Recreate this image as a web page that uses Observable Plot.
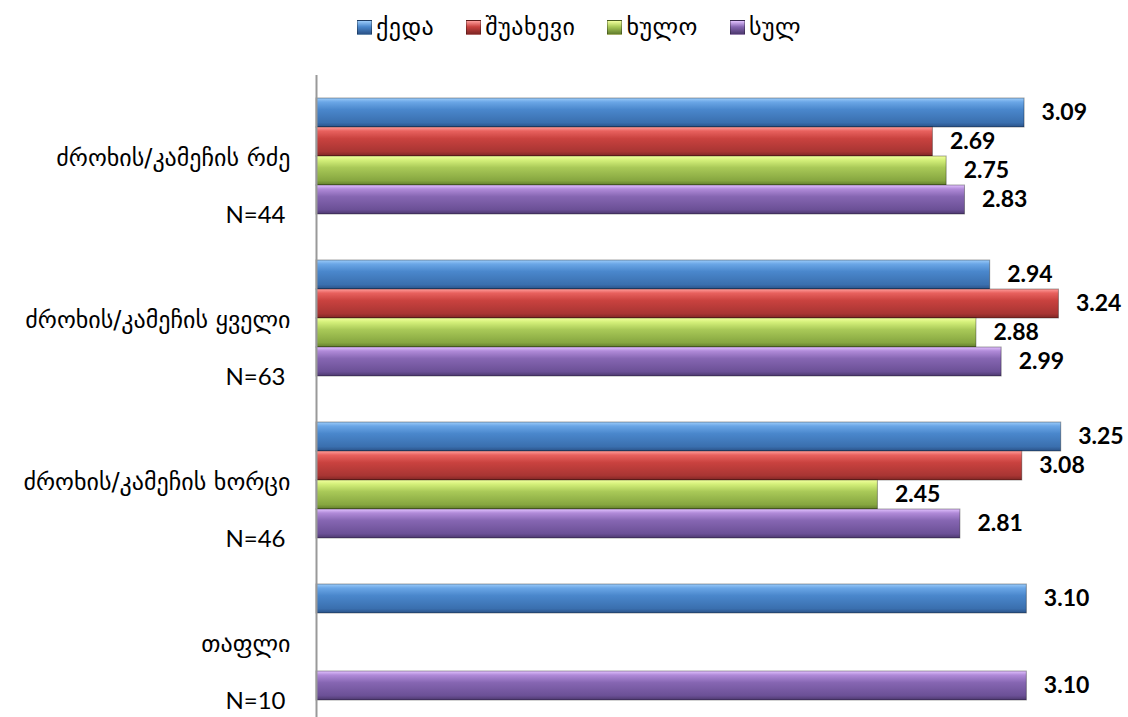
<!DOCTYPE html>
<html><head><meta charset="utf-8">
<script src="https://cdn.jsdelivr.net/npm/d3@7"></script>
<script src="https://cdn.jsdelivr.net/npm/@observablehq/plot@0.6"></script>
<style>
html,body{margin:0;padding:0;background:#fff;overflow:hidden}
#wrap{position:relative;width:1128px;height:717px}
#legend{position:absolute;top:13px;left:357px;display:flex;align-items:center;font-family:"DejaVu Sans",sans-serif;font-size:24px;letter-spacing:0.5px;color:#000}
#legend .item{display:flex;align-items:center;margin-right:32px}
#legend .sw{width:15px;height:15px;margin-right:4px;box-sizing:border-box}
#chart{position:absolute;top:0;left:0}
</style>
</head><body>
<svg width="0" height="0" style="position:absolute">
  <defs>
    <linearGradient id="g-blue" x1="0" y1="0" x2="0" y2="1">
      <stop offset="0" stop-color="#9cccfa"/><stop offset="0.14" stop-color="#6aa6e6"/>
      <stop offset="0.4" stop-color="#4a87cc"/><stop offset="0.85" stop-color="#3a6fae"/>
      <stop offset="1" stop-color="#2a5288"/>
    </linearGradient>
    <linearGradient id="g-red" x1="0" y1="0" x2="0" y2="1">
      <stop offset="0" stop-color="#ff9e9c"/><stop offset="0.14" stop-color="#e8615e"/>
      <stop offset="0.4" stop-color="#c9423f"/><stop offset="0.85" stop-color="#a83533"/>
      <stop offset="1" stop-color="#7e2624"/>
    </linearGradient>
    <linearGradient id="g-green" x1="0" y1="0" x2="0" y2="1">
      <stop offset="0" stop-color="#f2ff9e"/><stop offset="0.14" stop-color="#d4f07a"/>
      <stop offset="0.4" stop-color="#a9c958"/><stop offset="0.85" stop-color="#86a640"/>
      <stop offset="1" stop-color="#617d2c"/>
    </linearGradient>
    <linearGradient id="g-purple" x1="0" y1="0" x2="0" y2="1">
      <stop offset="0" stop-color="#e2c2ff"/><stop offset="0.14" stop-color="#b08ad8"/>
      <stop offset="0.4" stop-color="#8666b2"/><stop offset="0.85" stop-color="#6b5096"/>
      <stop offset="1" stop-color="#4c386e"/>
    </linearGradient>
  </defs>
</svg>
<div id="wrap">
  <div id="chart"></div>
  <div id="legend"></div>
</div>
<script>
const categories = ["ძროხის/კამეჩის რძე", "ძროხის/კამეჩის ყველი", "ძროხის/კამეჩის ხორცი", "თაფლი"];
const nLabels = ["N=44", "N=63", "N=46", "N=10"];
const series = ["ქედა", "შუახევი", "ხულო", "სულ"];
const keda = [3.09, 2.94, 3.25, 3.10];
const shuakhevi = [2.69, 3.24, 3.08, null];
const khulo = [2.75, 2.88, 2.45, null];
const sul = [2.83, 2.99, 2.81, 3.10];

const seriesValues = [keda, shuakhevi, khulo, sul];
const gradIds = ["g-blue", "g-red", "g-green", "g-purple"];
const legendGrad = [
  "linear-gradient(#9cccfa,#4a87cc 45%,#2a5288)",
  "linear-gradient(#ff9e9c,#c9423f 45%,#7e2624)",
  "linear-gradient(#f2ff9e,#a9c958 45%,#617d2c)",
  "linear-gradient(#e2c2ff,#8666b2 45%,#4c386e)"
];

const rows = [];
categories.forEach((c, i) => series.forEach((s, j) => {
  const v = seriesValues[j][i];
  if (v != null) rows.push({category: c, series: s, value: v});
}));
const cats = categories.map((c, i) => ({category: c, n: nLabels[i]}));

const chart = Plot.plot({
  width: 1128, height: 717,
  marginLeft: 316, marginRight: 10, marginTop: 98, marginBottom: 17,
  x: {domain: [0, 3.5], axis: null},
  y: {domain: series, axis: null, padding: 0},
  fy: {domain: categories, axis: null, paddingInner: 0.284, paddingOuter: 0},
  color: {domain: series, range: gradIds.map(id => `url(#${id})`)},
  marks: [
    Plot.barX(rows, {fy: "category", y: "series", x: "value", fill: "series",
      stroke: "#000", strokeOpacity: 0.35, strokeWidth: 1}),
    Plot.ruleX([0], {stroke: "#999", strokeWidth: 2, insetTop: -23, insetBottom: -23}),
    Plot.text(rows, {fy: "category", y: "series", x: "value", text: d => d.value.toFixed(2),
      dx: 17, textAnchor: "start", fontWeight: "bold", fontSize: 23, fontFamily: "Lato", fill: "#000"}),
    Plot.text(cats, {fy: "category", frameAnchor: "left", text: "category", textAnchor: "end",
      dx: -26, dy: 2, fontSize: 24, fontFamily: "DejaVu Sans", fill: "#000"}),
    Plot.text(cats, {fy: "category", frameAnchor: "left", text: "n", textAnchor: "end",
      dx: -31, dy: 59, fontSize: 24, fontFamily: "Lato", fill: "#000"})
  ]
});
document.getElementById("chart").appendChild(chart);

const legend = document.getElementById("legend");
series.forEach((s, i) => {
  const item = document.createElement("div");
  item.className = "item";
  const sw = document.createElement("div");
  sw.className = "sw";
  sw.style.background = legendGrad[i];
  sw.style.border = "1px solid rgba(0,0,0,0.3)";
  const t = document.createElement("span");
  t.textContent = s;
  item.appendChild(sw); item.appendChild(t);
  legend.appendChild(item);
});
</script>
</body></html>
